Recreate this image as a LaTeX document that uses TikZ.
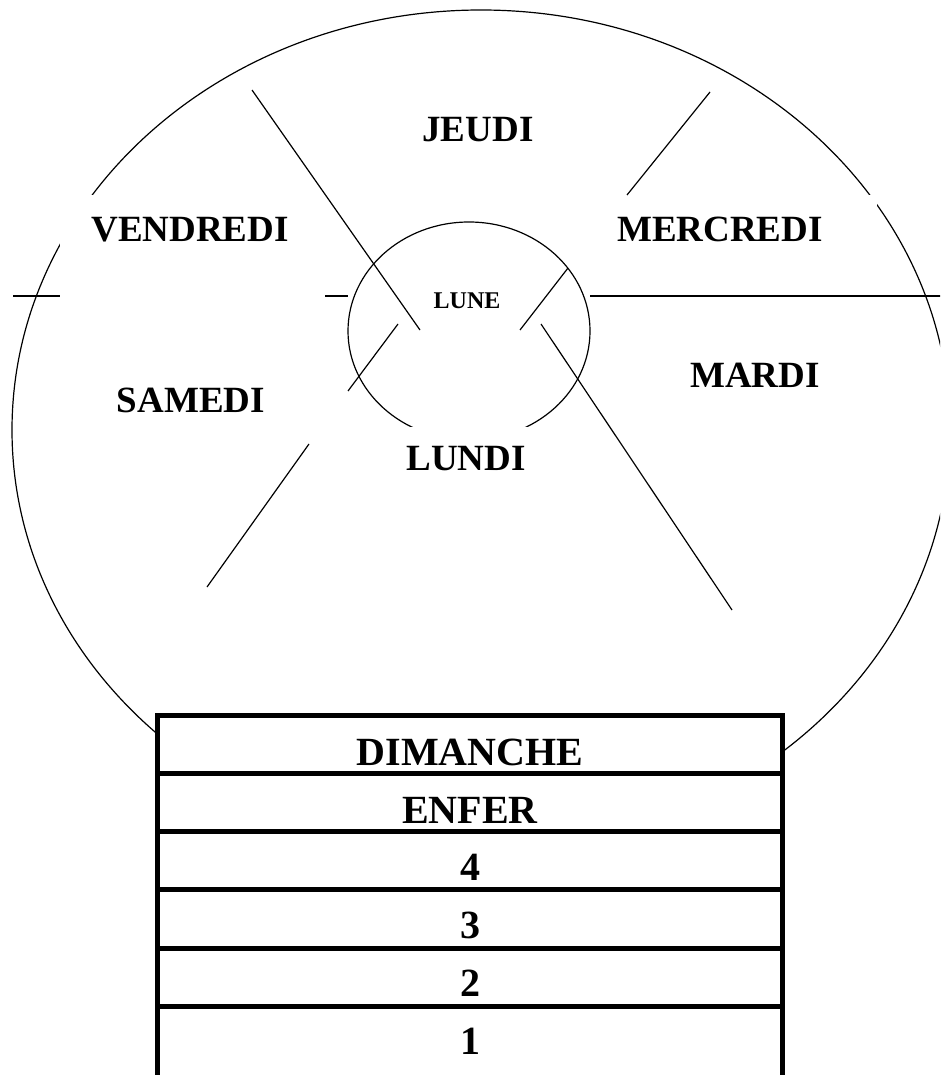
\documentclass[tikz,border=0pt]{standalone}
\usepackage{fontspec}
\setmainfont{Liberation Serif}
\begin{document}
\begin{tikzpicture}[x=1pt,y=-1pt,
  thin line/.style={line width=1.2pt, black},
  table line/.style={line width=5pt, black},
  daylabel/.style={font=\bfseries\fontsize{37}{40}\selectfont, anchor=base, inner sep=0pt},
  moonlabel/.style={font=\bfseries\fontsize{24}{26}\selectfont, anchor=base, inner sep=0pt},
  rowlabel/.style={font=\bfseries\fontsize{40}{42}\selectfont, anchor=base, inner sep=0pt},
  mask/.style={fill=white, draw=none}]
\clip (0,0) rectangle (940,1075);
\fill[white] (0,0) rectangle (940,1075);

% outer ellipse
\draw[thin line] (481,430) ellipse [x radius=469pt, y radius=420pt];
\fill[mask] (60,195) rectangle (110,260);
\fill[mask] (840,195) rectangle (877,230);

% inner circle (moon)
\draw[thin line] (469,331) ellipse [x radius=121pt, y radius=109pt];
\fill[mask] (395,427) rectangle (537,491);

% line end points
\coordinate (a1) at (252,90);  \coordinate (a2) at (420,330);
\coordinate (b1) at (710,92);  \coordinate (b2) at (627,195);
\coordinate (b3) at (568,268); \coordinate (b4) at (520,330);
\coordinate (c1) at (13,296);  \coordinate (c2) at (60,296);
\coordinate (c3) at (325,296); \coordinate (c4) at (348,296);
\coordinate (d1) at (590,296); \coordinate (d2) at (945,296);
\coordinate (e1) at (398,324); \coordinate (e2) at (348,391);
\coordinate (e3) at (309,444); \coordinate (e4) at (207,587);
\coordinate (f1) at (541,324); \coordinate (f2) at (732,610);

\draw[thin line] (a1) -- (a2);
\draw[thin line] (b1) -- (b2);
\draw[thin line] (b3) -- (b4);
\draw[thin line] (c1) -- (c2);
\draw[thin line] (c3) -- (c4);
\draw[thin line] (d1) -- (d2);
\draw[thin line] (e1) -- (e2);
\draw[thin line] (e3) -- (e4);
\draw[thin line] (f1) -- (f2);

% day labels
\node[daylabel] (jeudi) at (478,142) {JEUDI};
\node[daylabel] (vendredi) at (190,242) {VENDREDI};
\node[daylabel] (mercredi) at (720,242) {MERCREDI};
\node[daylabel] (samedi) at (191,412) {SAMEDI};
\node[daylabel] (mardi) at (755,387) {MARDI};
\node[daylabel] (lundi) at (466,470) {LUNDI};
\node[moonlabel] (lune) at (467,308) {LUNE};

% table
\filldraw[table line, fill=white] (157.5,715) rectangle (782,1100);
\coordinate (tl1) at (157.5,773);  \coordinate (tr1) at (782,773);
\coordinate (tl2) at (157.5,831);  \coordinate (tr2) at (782,831);
\coordinate (tl3) at (157.5,889.5);\coordinate (tr3) at (782,889.5);
\coordinate (tl4) at (157.5,948);  \coordinate (tr4) at (782,948);
\coordinate (tl5) at (157.5,1006); \coordinate (tr5) at (782,1006);
\draw[table line] (tl1) -- (tr1);
\draw[table line] (tl2) -- (tr2);
\draw[table line] (tl3) -- (tr3);
\draw[table line] (tl4) -- (tr4);
\draw[table line] (tl5) -- (tr5);

\node[rowlabel] (dimanche) at (470,765) {DIMANCHE};
\node[rowlabel] (enfer) at (470,823) {ENFER};
\node[rowlabel] (r4) at (470,880) {4};
\node[rowlabel] (r3) at (470,938) {3};
\node[rowlabel] (r2) at (470,996) {2};
\node[rowlabel] (r1) at (470,1054) {1};
\end{tikzpicture}
\end{document}
